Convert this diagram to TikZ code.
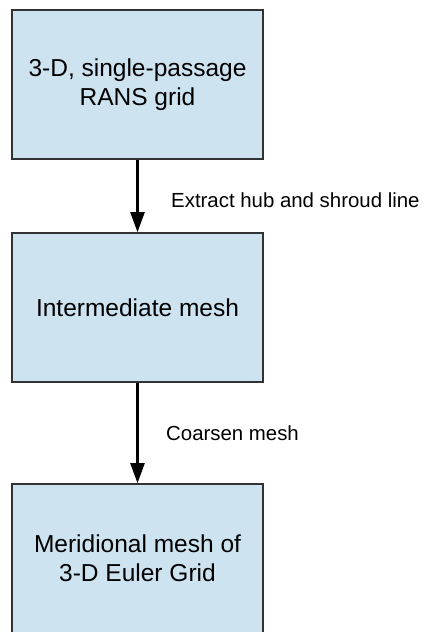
\documentclass[tikz,border=0pt]{standalone}
\usepackage{fontspec}
\setmainfont{Liberation Sans}
\usetikzlibrary{arrows.meta}
\definecolor{boxfill}{RGB}{205,227,240}
\definecolor{boxline}{RGB}{50,50,50}
\tikzset{
  stepbox/.style={draw=boxline, line width=1.6pt, fill=boxfill, minimum width=251pt, minimum height=149pt,
    inner sep=0pt, align=center, font=\fontsize{24.5}{29}\selectfont},
  flowarrow/.style={line width=2.2pt, -{Triangle[length=20pt,width=14pt]}},
  steplabel/.style={anchor=west, inner sep=0pt, font=\fontsize{20.4}{25}\selectfont}
}
\begin{document}
\begin{tikzpicture}[x=1pt,y=-1pt]
\useasboundingbox (0,0) rectangle (426,632);
\clip (0,0) rectangle (426,632);
\node[stepbox] (b1) at (137.5,84.5) {3-D, single-passage\\RANS grid};
\node[stepbox] (b2) at (137.5,307.5) {Intermediate mesh};
\node[stepbox] (b3) at (137.5,558.5) {Meridional mesh of\\3-D Euler Grid};
\draw[flowarrow] (b1.south) -- (b2.north);
\draw[flowarrow] (b2.south) -- (b3.north);
\node[steplabel] (l1) at (171,200) {Extract hub and shroud line};
\node[steplabel] (l2) at (166,433) {Coarsen mesh};
\end{tikzpicture}
\end{document}
